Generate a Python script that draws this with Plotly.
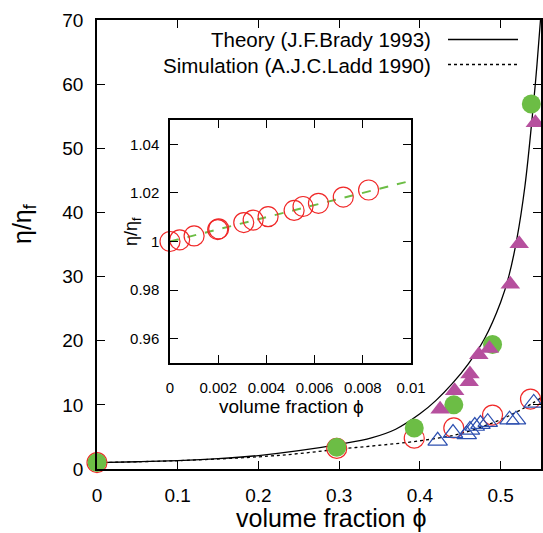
import plotly.graph_objects as go

# ---- data ----
phi_theory = [0, 0.05, 0.1, 0.15, 0.2, 0.25, 0.3, 0.34, 0.37, 0.4, 0.42, 0.44, 0.46,
              0.48, 0.5, 0.51, 0.52, 0.53, 0.54, 0.545, 0.55]
eta_theory = [1.0, 1.13, 1.32, 1.62, 2.1, 2.85, 3.85, 4.85, 6.2, 8.6, 10.7, 13.3, 16.4,
              20.3, 26.0, 30.0, 35.8, 44.0, 56.0, 63.0, 71.0]

phi_sim = [0, 0.1, 0.2, 0.25, 0.3, 0.35, 0.4, 0.45, 0.5, 0.52, 0.54, 0.55]
eta_sim = [1.0, 1.3, 1.9, 2.4, 3.1, 3.7, 4.4, 5.5, 7.7, 8.9, 10.3, 11.1]

phi_green = [0.0, 0.297, 0.393, 0.442, 0.490, 0.538]
eta_green = [1.0, 3.4, 6.4, 10.0, 19.4, 56.9]

phi_red = [0.0, 0.297, 0.393, 0.442, 0.490, 0.537]
eta_red = [1.0, 3.2, 4.8, 6.4, 8.4, 10.9]

phi_blue = [0.422, 0.441, 0.458, 0.462, 0.468, 0.475, 0.484, 0.511, 0.519, 0.541]
eta_blue = [4.4, 5.6, 5.4, 6.1, 6.7, 7.0, 7.3, 7.7, 7.7, 10.3]

phi_purple = [0.425, 0.443, 0.461, 0.462, 0.473, 0.486, 0.512, 0.523, 0.543]
eta_purple = [9.3, 12.2, 13.6, 14.8, 17.8, 18.8, 28.8, 35.1, 54.0]

phi_inset = [0.0, 0.0004, 0.001, 0.00198, 0.00202, 0.00306, 0.00345, 0.00407,
             0.00515, 0.00552, 0.00616, 0.00719, 0.00824]
eta_inset = [1.0, 1.0007, 1.0023, 1.0049, 1.0052, 1.0078, 1.0088, 1.0102,
             1.0128, 1.0144, 1.0157, 1.0183, 1.0212]

phi_einstein = [0.0, 0.01]
eta_einstein = [1.0, 1.025]

main_xticks = [0, 0.1, 0.2, 0.3, 0.4, 0.5]
main_xlabels = ["0", "0.1", "0.2", "0.3", "0.4", "0.5"]
main_yticks = [0, 10, 20, 30, 40, 50, 60, 70]
inset_xticks = [0, 0.002, 0.004, 0.006, 0.008, 0.01]
inset_xlabels = ["0", "0.002", "0.004", "0.006", "0.008", "0.01"]
inset_yticks = [0.96, 0.98, 1.0, 1.02, 1.04]
inset_ylabels = ["0.96", "0.98", "1", "1.02", "1.04"]

legend_labels = ["Theory (J.F.Brady 1993)", "Simulation (A.J.C.Ladd 1990)"]

# ---- styling ----
GREEN = "#6cbd45"
RED = "#f02828"
BLUE = "#2c4fb0"
PURPLE = "#b6509e"
FONT = "Liberation Sans, Arial, sans-serif"

fig = go.Figure()

fig.add_trace(go.Scatter(x=phi_theory, y=eta_theory, mode="lines",
                         line=dict(color="black", width=1.3, shape="spline"),
                         xaxis="x", yaxis="y", cliponaxis=True))
fig.add_trace(go.Scatter(x=phi_sim, y=eta_sim, mode="lines",
                         line=dict(color="black", width=1.3, dash="dot", shape="spline"),
                         xaxis="x", yaxis="y"))
fig.add_trace(go.Scatter(x=phi_red, y=eta_red, mode="markers",
                         marker=dict(symbol="circle-open", size=20, color=RED,
                                     line=dict(width=1.2, color=RED)),
                         cliponaxis=False))
fig.add_trace(go.Scatter(x=phi_blue, y=eta_blue, mode="markers",
                         marker=dict(symbol="triangle-up-open", size=17, color=BLUE,
                                     line=dict(width=1.2, color=BLUE)),
                         cliponaxis=False))
fig.add_trace(go.Scatter(x=phi_green, y=eta_green, mode="markers",
                         marker=dict(symbol="circle", size=19, color=GREEN,
                                     line=dict(width=0)),
                         cliponaxis=False))
fig.add_trace(go.Scatter(x=phi_purple, y=eta_purple, mode="markers",
                         marker=dict(symbol="triangle-up", size=17, color=PURPLE,
                                     line=dict(width=0)),
                         cliponaxis=False))

# inset
fig.add_trace(go.Scatter(x=phi_einstein, y=eta_einstein, mode="lines",
                         line=dict(color=GREEN, width=2, dash="dash"),
                         xaxis="x2", yaxis="y2"))
fig.add_trace(go.Scatter(x=phi_inset, y=eta_inset, mode="markers",
                         marker=dict(symbol="circle-open", size=20, color=RED,
                                     line=dict(width=1.2, color=RED)),
                         xaxis="x2", yaxis="y2", cliponaxis=False))

W, H = 543, 533
L, R, T, B = 97, 2, 20, 64
pw, ph = W - L - R, H - T - B

def px(xp):
    return (xp - L) / pw

def py(yp):
    return (H - B - yp) / ph

axis_common = dict(showline=True, linecolor="black", linewidth=1.5, mirror="ticks",
                   ticks="inside", ticklen=8, tickwidth=1.2, tickcolor="black",
                   showgrid=False, zeroline=False, automargin=False)

fig.update_layout(
    template="none",
    width=W, height=H,
    margin=dict(l=L, r=R, t=T, b=B, autoexpand=False),
    paper_bgcolor="white", plot_bgcolor="white",
    showlegend=False,
    font=dict(family=FONT, color="black"),
    xaxis=dict(range=[0, 0.55], tickvals=main_xticks, ticktext=main_xlabels,
               tickfont=dict(size=19), ticklabelstandoff=8, **axis_common),
    yaxis=dict(range=[0, 70], tickvals=main_yticks,
               tickfont=dict(size=19), ticklabelstandoff=8, **axis_common),
    xaxis2=dict(domain=[px(170), px(411)], anchor="y2", range=[0, 0.01],
                tickvals=inset_xticks, ticktext=inset_xlabels,
                tickfont=dict(size=15), ticklabelstandoff=10, **axis_common),
    yaxis2=dict(domain=[py(363), py(120)], anchor="x2", range=[0.95, 1.05],
                tickvals=inset_yticks, ticktext=inset_ylabels,
                tickfont=dict(size=15), ticklabelstandoff=6, **axis_common),
)

shapes = [
    dict(type="rect", xref="paper", yref="paper", x0=px(170), x1=px(411),
         y0=py(363), y1=py(120), fillcolor="white", line=dict(width=0), layer="below"),
    dict(type="line", xref="paper", yref="paper", x0=px(448), x1=px(518),
         y0=py(39.5), y1=py(39.5), line=dict(color="black", width=1.3)),
    dict(type="line", xref="paper", yref="paper", x0=px(448), x1=px(518),
         y0=py(64.5), y1=py(64.5), line=dict(color="black", width=1.3, dash="dot")),
]
annotations = [
    dict(text=legend_labels[0], xref="paper", yref="paper", x=px(433), y=py(40),
         xanchor="right", yanchor="middle", showarrow=False, font=dict(size=20.5)),
    dict(text=legend_labels[1], xref="paper", yref="paper", x=px(433), y=py(65),
         xanchor="right", yanchor="middle", showarrow=False, font=dict(size=20.5)),
    dict(text="volume fraction \u03d5", xref="paper", yref="paper", x=px(331), y=py(518),
         xanchor="center", yanchor="middle", showarrow=False, font=dict(size=25)),
    dict(text="\u03b7/\u03b7<sub>f</sub>", xref="paper", yref="paper", x=px(24), y=py(224),
         xanchor="center", yanchor="middle", textangle=-90, showarrow=False,
         font=dict(size=25)),
    dict(text="volume fraction \u03d5", xref="paper", yref="paper", x=px(291), y=py(406),
         xanchor="center", yanchor="middle", showarrow=False, font=dict(size=19)),
    dict(text="\u03b7/\u03b7<sub>f</sub>", xref="paper", yref="paper", x=px(132), y=py(232),
         xanchor="center", yanchor="middle", textangle=-90, showarrow=False,
         font=dict(size=18)),
]
fig.update_layout(shapes=shapes, annotations=annotations)

fig.write_html("out.html", config={"displayModeBar": False},
               post_script="document.body.style.margin='0';document.body.style.padding='0';")
